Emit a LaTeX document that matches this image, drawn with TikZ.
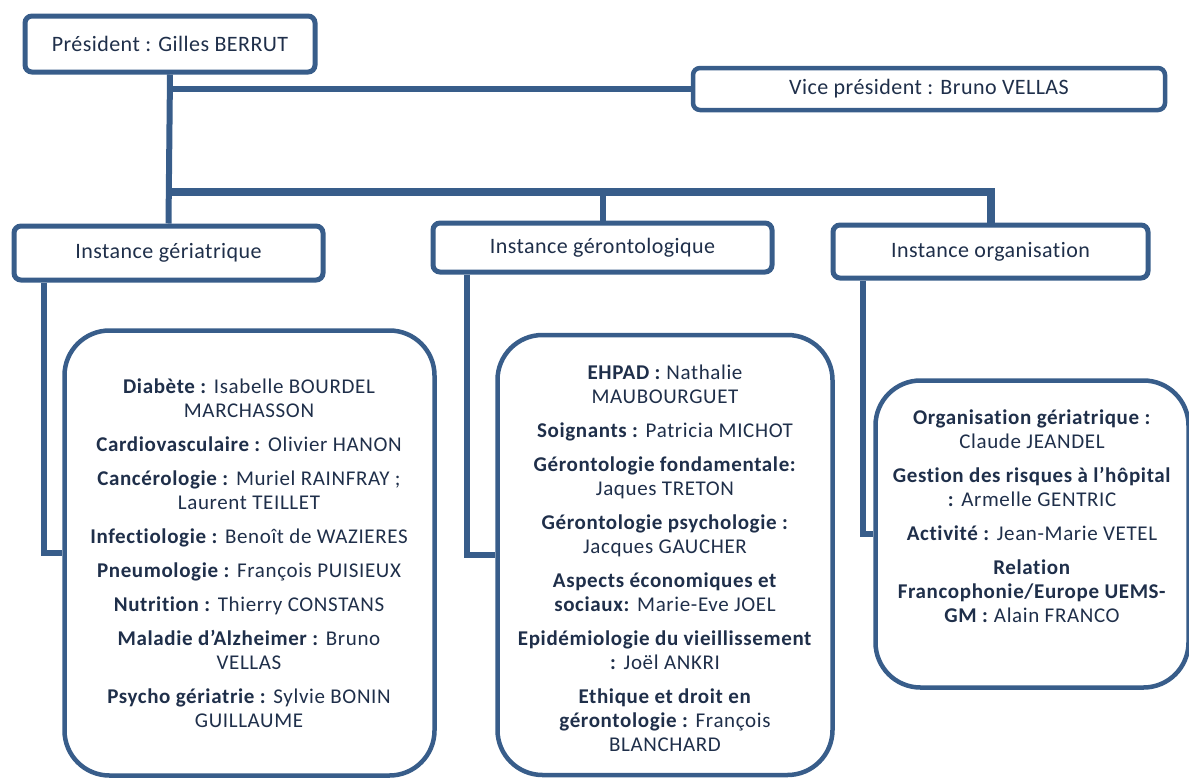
\documentclass[tikz,border=0pt]{standalone}
\usepackage{fontspec}
\setmainfont{Carlito}[Ligatures=NoCommon]
\definecolor{cadre}{HTML}{385D8A}
\definecolor{texte}{HTML}{1F2F4A}
\newcommand{\theme}[1]{\textbf{#1}}
\begin{document}
\begin{tikzpicture}[x=1pt,y=-1pt,
    titre/.style={draw=cadre,line width=5pt,rounded corners=7pt,fill=white,text=texte,font=\fontsize{22}{24}\selectfont\addfontfeature{LetterSpace=2}},
    liste/.style={draw=cadre,line width=4.5pt,rounded corners=45pt,fill=white},
    contenu/.style={text=texte,align=center,font=\fontsize{21}{24}\selectfont\addfontfeature{LetterSpace=3}},
    lien/.style={cadre,line width=6pt}]
  \useasboundingbox (0,0) rectangle (1189,780);
  % cadres du haut
  \node[titre,minimum width=290pt,minimum height=56pt](pres) at (170,44){Président : Gilles BERRUT};
  \node[titre,line width=4.5pt,minimum width=472pt,minimum height=42pt](vp) at (929,89){Vice président : Bruno VELLAS};
  \node[titre,minimum width=309pt,minimum height=54pt](geri) at (168.5,253){Instance gériatrique};
  \node[titre,minimum width=339pt,minimum height=49pt](geronto) at (602.5,247.5){Instance gérontologique};
  \node[titre,minimum width=315pt,minimum height=53pt](org) at (990.5,251.5){Instance organisation};
  % listes
  \node[liste,minimum width=370pt,minimum height=445pt](geriListe) at (249.5,553){};
  \node[liste,minimum width=335pt,minimum height=440pt](gerontoListe) at (665,555){};
  \node[liste,minimum width=313pt,minimum height=307pt](orgListe) at (1032,534){};
  \node[contenu](geriTexte) at (249,553){\theme{Diabète :} Isabelle BOURDEL\\ MARCHASSON\\[10pt]
    \theme{Cardiovasculaire :} Olivier HANON\\[10pt]
    \theme{Cancérologie :} Muriel RAINFRAY ;\\ Laurent TEILLET\\[10pt]
    \theme{Infectiologie :} Benoît de WAZIERES\\[10pt]
    \theme{Pneumologie :} François PUISIEUX\\[10pt]
    \theme{Nutrition :} Thierry CONSTANS\\[10pt]
    \theme{Maladie d’Alzheimer :} Bruno\\ VELLAS\\[10pt]
    \theme{Psycho gériatrie :} Sylvie BONIN\\ GUILLAUME};
  \node[contenu](gerontoTexte) at (665,558){\theme{EHPAD :} Nathalie\\ MAUBOURGUET\\[10pt]
    \theme{Soignants :} Patricia MICHOT\\[10pt]
    \theme{Gérontologie fondamentale:}\\ Jaques TRETON\\[10pt]
    \theme{Gérontologie psychologie :}\\ Jacques GAUCHER\\[10pt]
    \theme{Aspects économiques et}\\ \theme{sociaux:} Marie-Eve JOEL\\[10pt]
    \theme{Epidémiologie du vieillissement}\\ \theme{:} Joël ANKRI\\[10pt]
    \theme{Ethique et droit en}\\ \theme{gérontologie :} François\\ BLANCHARD};
  \node[contenu](orgTexte) at (1032,516){\theme{Organisation gériatrique :}\\ Claude JEANDEL\\[10pt]
    \theme{Gestion des risques à l’hôpital}\\ \theme{:} Armelle GENTRIC\\[10pt]
    \theme{Activité :} Jean-Marie VETEL\\[10pt]
    \theme{Relation}\\ \theme{Francophonie/Europe UEMS-}\\ \theme{GM :} Alain FRANCO};
  % liaisons
  \coordinate (bus) at (169,192);
  \draw[lien](pres.south)--(geri.north);
  \draw[lien](pres.south |- vp.west)--(vp.west);%vice président
  \draw[lien,line width=8pt](bus)-|(org.north);
  \draw[lien](geronto.north |- bus)--(geronto.north);
  \draw[lien]([xshift=32pt]geri.south west)|-(geriListe.west);
  \draw[lien]([xshift=36pt]geronto.south west)|-(gerontoListe.west);
  \draw[lien]([xshift=32pt]org.south west)|-(orgListe.west);
\end{tikzpicture}
\end{document}
